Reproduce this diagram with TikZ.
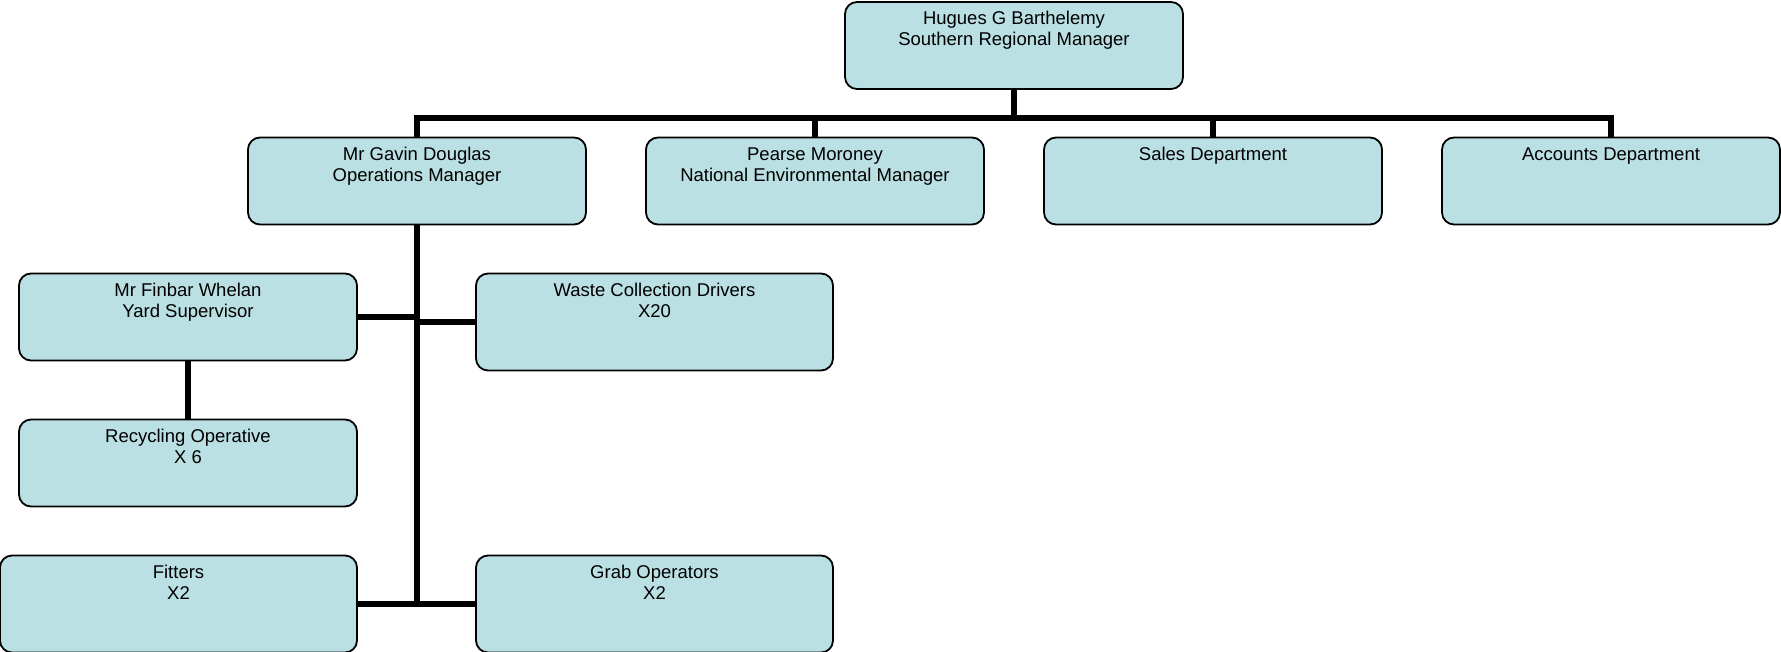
\documentclass[tikz,border=0pt]{standalone}
\usepackage{fontspec}
\setmainfont{Liberation Sans}
\usetikzlibrary{positioning,calc}
\definecolor{postfill}{RGB}{187,224,227}
\newcommand{\toptext}[2][43.5pt]{\parbox[c][#1][t]{150pt}{\centering\rule{0pt}{11.3pt}#2}}

\begin{document}
\begin{tikzpicture}[
    x=0.5pt, y=-0.5pt,
    node distance=24.5pt and 30pt,
    post/.style={draw, line width=0.9pt, rounded corners=6pt, fill=postfill, inner sep=0pt, outer sep=0pt,
      minimum width=169pt, minimum height=43.5pt, font=\fontsize{9.25}{10.5}\selectfont},
    bigpost/.style={post, minimum width=178.5pt, minimum height=48.5pt},
    link/.style={line width=2.7pt}
  ]
  \useasboundingbox (0,0) rectangle (1781,652);

  % Second row: managers and departments
  \node[post, anchor=north west] (ops) at (248,137.5) {\toptext{Mr Gavin Douglas\\Operations Manager}};
  \node[post, right=of ops] (env) {\toptext{Pearse Moroney\\National Environmental Manager}};
  \node[post, right=of env] (sales) {\toptext{Sales Department}};
  \node[post, right=of sales] (acc) {\toptext{Accounts Department}};

  % Regional manager on top
  \coordinate (mid) at ($(env.north)!0.5!(sales.north)$);
  \node[post, above=24.25pt of mid] (srm) {\toptext{Hugues G Barthelemy\\Southern Regional Manager}};
  \coordinate[below=14.5pt of srm] (hub);

  % Staff under operations
  \node[post, below left=24.5pt and 30pt of ops.south] (yard) {\toptext{Mr Finbar Whelan\\Yard Supervisor}};
  \node[bigpost, below right=24.5pt and 29.5pt of ops.south] (waste) {\toptext[48.5pt]{Waste Collection Drivers\\X20}};
  \node[post, below=29.5pt of yard] (recycle) {\toptext{Recycling Operative\\X 6}};
  \node[bigpost, below=92.5pt of waste] (grab) {\toptext[48.5pt]{Grab Operators\\X2}};
  \node[bigpost, left=59.5pt of grab] (fitters) {\toptext[48.5pt]{Fitters\\X2}};

  % Connectors
  \draw[link] (srm.south) -- (hub);
  \foreach \n in {ops,env,sales,acc}
    \draw[link] (hub) -| (\n.north);
  \draw[link] (ops.south) -- (ops.south |- fitters.east);
  \draw[link] (yard.east) -- (yard.east -| ops.south);
  \draw[link] (waste.west) -- (waste.west -| ops.south);
  \draw[link] (fitters.east) -- (grab.west);
  \draw[link] (yard) -- (recycle);

\end{tikzpicture}
\end{document}
